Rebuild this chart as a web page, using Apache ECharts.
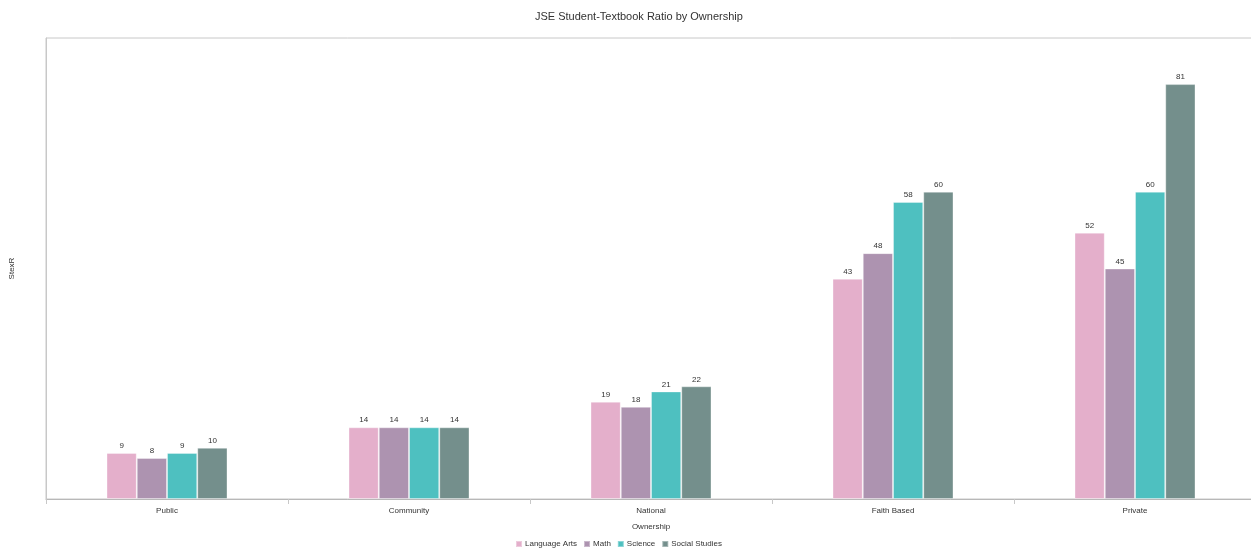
<!DOCTYPE html>
<html>
<head>
<meta charset="utf-8">
<script src="https://cdn.jsdelivr.net/npm/echarts@6/dist/echarts.min.js"></script>
<style>html,body{margin:0;padding:0;background:#fff}#c{width:1251px;height:550px}</style>
</head>
<body>
<div id="c"></div>
<script>
const categories = ['Public', 'Community', 'National', 'Faith Based', 'Private'];
const seriesNames = ['Language Arts', 'Math', 'Science', 'Social Studies'];
const languageArts = [9, 14, 19, 43, 52];
const math = [8, 14, 18, 48, 45];
const science = [9, 14, 21, 58, 60];
const socialStudies = [10, 14, 22, 60, 81];
const colors = ['#e4afcb', '#ad93b0', '#4ec0c0', '#748f8c'];
const values = [languageArts, math, science, socialStudies];

const chart = echarts.init(document.getElementById('c'));
chart.setOption({
  animation: false,
  textStyle: { fontFamily: 'Liberation Sans, Arial, sans-serif' },
  title: {
    text: 'JSE Student-Textbook Ratio by Ownership',
    left: 530, top: 6,
    textStyle: { fontSize: 11, fontWeight: 'normal', color: '#333' }
  },
  legend: {
    top: 535, left: 510,
    itemWidth: 6, itemHeight: 6, itemGap: 6,
    icon: 'rect',
    textStyle: { fontSize: 8, color: '#333', padding: [0, 0, 0, -2] },
    data: seriesNames
  },
  grid: {
    left: 46, top: 38, width: 1210, height: 461,
    outerBoundsMode: 'none', containLabel: false,
    show: true, borderColor: '#c8c8c8', borderWidth: 1, backgroundColor: 'transparent'
  },
  xAxis: {
    type: 'category', data: categories,
    name: 'Ownership', nameLocation: 'middle', nameGap: 24,
    nameTextStyle: { fontSize: 8, color: '#333' },
    axisLine: { lineStyle: { color: '#b8b8b8' } },
    axisTick: { show: true, length: 5, lineStyle: { color: '#c8c8c8' } },
    axisLabel: { fontSize: 8, color: '#333', margin: 8 }
  },
  yAxis: {
    type: 'value', min: 0, max: 90,
    name: 'StexR', nameLocation: 'middle', nameGap: 30,
    nameTextStyle: { fontSize: 8, color: '#333' },
    axisLine: { show: true, lineStyle: { color: '#c8c8c8' } },
    axisTick: { show: false }, axisLabel: { show: false },
    splitLine: { show: false }
  },
  series: seriesNames.map((n, i) => ({
    name: n, type: 'bar', data: values[i],
    barGap: '0%', barCategoryGap: '50%',
    itemStyle: { color: colors[i], borderColor: 'rgba(255,255,255,0.35)', borderWidth: 1 },
    label: { show: true, position: 'top', distance: 3, fontSize: 8, color: '#333' }
  }))
});
</script>
</body>
</html>
